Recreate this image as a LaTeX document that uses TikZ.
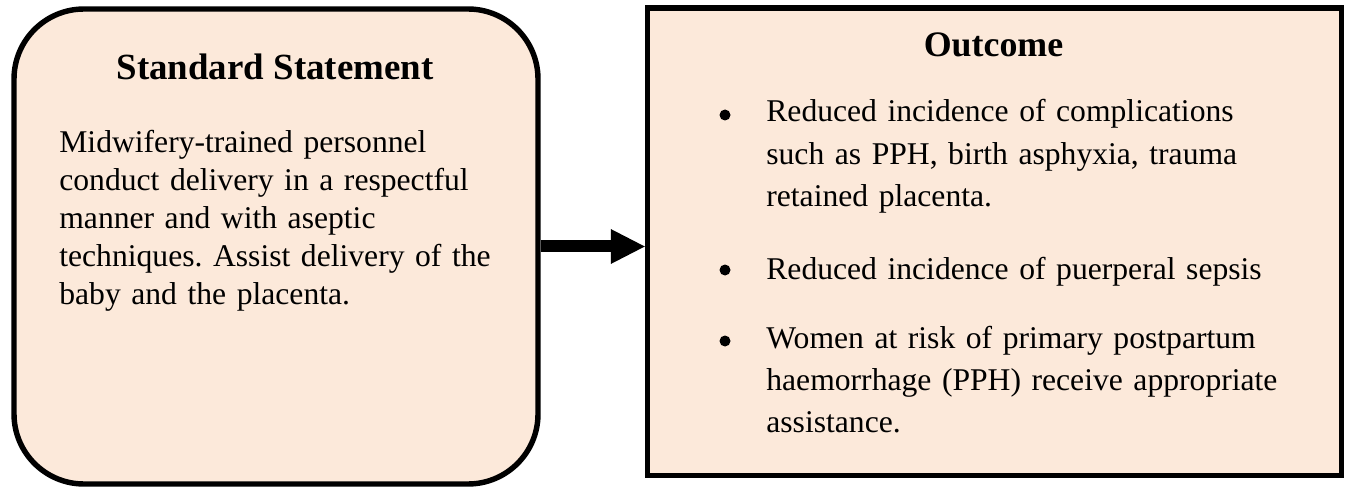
\documentclass[tikz,border=0pt]{standalone}
\usepackage{fontspec}
\setmainfont{Liberation Serif}
\usetikzlibrary{arrows.meta}
\definecolor{peach}{HTML}{FCE9DA}
\frenchspacing

\begin{document}
\begin{tikzpicture}[
  box/.style={draw, fill=peach, line width=3.1pt, inner sep=0pt},
  head/.style={font=\fontsize{21}{25}\selectfont\bfseries, anchor=base, inner sep=0pt},
  body/.style={font=\fontsize{18}{21.5}\selectfont, align=left, text width=#1, anchor=base west, inner sep=0pt},
  body/.default=9.4cm,
  list/.style={body=11.5cm, font=\fontsize{18}{24.1}\selectfont},
  dot/.style={circle, fill, inner sep=0pt, minimum size=0.22cm}]
  \useasboundingbox (0,0) rectangle (26.96,9.78);

  % the two boxes
  \node[box, rounded corners=1.4cm, minimum width=10.48cm, minimum height=9.5cm] (statement) at (5.52,4.85) {};
  \node[box, minimum width=13.88cm, minimum height=9.35cm] (outcome) at (19.89,4.945) {};
  \draw[line width=0.24cm, -{Triangle[length=0.68cm, width=0.7cm, line width=0pt]}] (statement.east) -- (statement.east -| outcome.west);

  % left box
  \node[head] (sttitle) at (5.5,8.18) {Standard Statement};
  \node[body] (sttext) at (1.18,6.72) {Midwifery-trained personnel\\conduct delivery in a respectful\\manner and with aseptic\\techniques. Assist delivery of the\\baby and the placenta.};

  % right box
  \node[head, font=\fontsize{20.4}{24}\selectfont\bfseries] (outtitle) at (19.87,8.64) {Outcome};
  \node[list] (itema) at (15.32,7.34) {Reduced incidence of complications\\such as PPH, birth asphyxia, trauma\\retained placenta.};
  \node[dot] (dota) at (14.5,7.48) {};
  \node[list] (itemb) at (15.32,4.2) {Reduced incidence of puerperal sepsis};
  \node[dot] (dotb) at (14.5,4.38) {};
  \node[list] (itemc) at (15.32,2.82) {Women at risk of primary postpartum\\haemorrhage (PPH) receive appropriate\\assistance.};
  \node[dot] (dotc) at (14.5,2.96) {};
\end{tikzpicture}
\end{document}
